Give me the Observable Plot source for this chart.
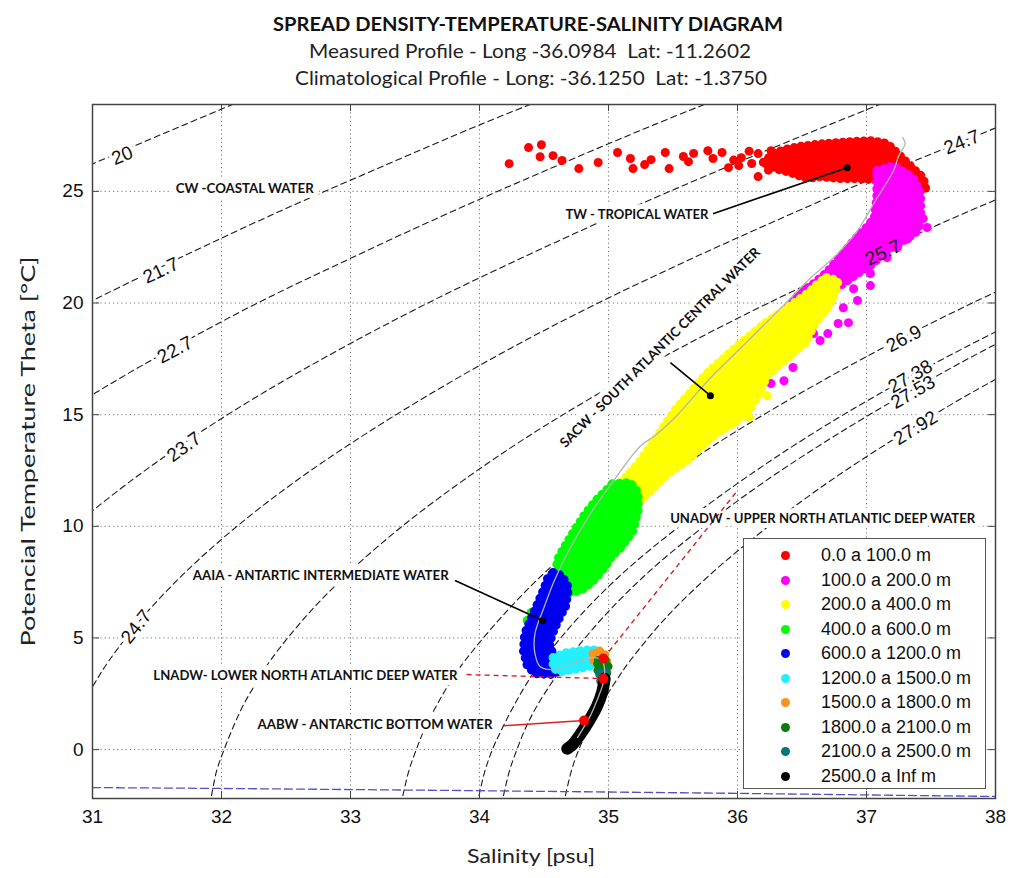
<!DOCTYPE html>
<html><head><meta charset="utf-8">
<script src="https://cdn.jsdelivr.net/npm/d3@7"></script>
<script src="https://cdn.jsdelivr.net/npm/@observablehq/plot@0.6"></script>
<style>
body{margin:0;background:#fff;}
#wrap{position:relative;width:1023px;height:878px;overflow:hidden;background:#fff;}
#legend{position:absolute;left:743px;top:538px;width:243px;height:251px;box-sizing:border-box;border:1.5px solid #555;background:#fff;font-family:"Liberation Sans",Arial,sans-serif;font-size:18px;color:#111;}
.item{position:absolute;left:0;height:20px;line-height:20px;width:100%;}
.sw{position:absolute;left:37px;top:6px;width:9px;height:9px;border-radius:50%;}
.lb{position:absolute;left:77px;top:0;white-space:nowrap;}
</style></head><body><div id="wrap"></div>
<script>
// ---------- data ----------
const xTicks = [31, 32, 33, 34, 35, 36, 37, 38];
const yTicks = [0, 5, 10, 15, 20, 25];

const titleText = "SPREAD DENSITY-TEMPERATURE-SALINITY DIAGRAM";
const subText1 = "Measured Profile - Long -36.0984\u00a0 Lat: -11.2602";
const subText2 = "Climatological Profile - Long: -36.1250\u00a0 Lat: -1.3750";
const xLabel = "Salinity [psu]";
const yLabel = "Potencial Temperature Theta [°C]";

const depthLabels = ["0.0 a 100.0 m","100.0 a 200.0 m","200.0 a 400.0 m","400.0 a 600.0 m","600.0 a 1200.0 m",
  "1200.0 a 1500.0 m","1500.0 a 1800.0 m","1800.0 a 2100.0 m","2100.0 a 2500.0 m","2500.0 a Inf m"];
const depthColors = ["#ff0000","#ff00ff","#ffff00","#00ff00","#0000f0","#22f0ff","#f7941d","#0a7a0a","#007878","#000000"];

// isopycnals (salinity, temperature) pairs
const isoLevels = ["20","21.7","22.7","23.7","24.7","25.7","26.9","27.38","27.53","27.92"];
const iso20   = [[30.91,26.0],[31.31,27.0],[31.72,28.0],[32.13,29.0]];
const iso217  = [[30.96,20.0],[31.67,22.0],[32.41,24.0],[33.20,26.0],[34.01,28.0],[34.44,29.0]];
const iso227  = [[30.49,14.0],[31.03,16.0],[31.63,18.0],[32.28,20.0],[33.00,22.0],[33.75,24.0],[34.54,26.0],[35.36,28.0],[35.79,29.0]];
const iso237  = [[30.85,10.0],[31.29,12.0],[31.78,14.0],[32.33,16.0],[32.94,18.0],[33.60,20.0],[34.32,22.0],[35.08,24.0],[35.88,26.0],[36.72,28.0],[37.15,29.0]];
const iso247  = [[30.78,0.0],[30.92,2.0],[31.02,3.0],[31.13,4.0],[31.40,6.0],[31.73,8.0],[32.12,10.0],[32.57,12.0],[33.08,14.0],[33.64,16.0],[34.25,18.0],[34.92,20.0],[35.65,22.0],[36.42,24.0],[37.22,26.0],[38.07,28.0]];
const iso257  = [[31.91,-2.5],[31.96,-1.0],[32.02,0.0],[32.09,1.0],[32.17,2.0],[32.27,3.0],[32.38,4.0],[32.66,6.0],[33.00,8.0],[33.40,10.0],[33.86,12.0],[34.37,14.0],[34.94,16.0],[35.56,18.0],[36.24,20.0],[36.98,22.0],[37.75,24.0],[38.57,26.0]];
const iso269  = [[33.39,-2.5],[33.45,-1.0],[33.51,0.0],[33.58,1.0],[33.67,2.0],[33.77,3.0],[33.89,4.0],[34.18,6.0],[34.52,8.0],[34.93,10.0],[35.40,12.0],[35.92,14.0],[36.50,16.0],[37.13,18.0],[37.82,20.0],[38.57,22.0]];
const iso2738 = [[33.98,-2.5],[34.04,-1.0],[34.10,0.0],[34.18,1.0],[34.27,2.0],[34.37,3.0],[34.49,4.0],[34.78,6.0],[35.13,8.0],[35.55,10.0],[36.02,12.0],[36.54,14.0],[37.12,16.0],[37.76,18.0],[38.45,20.0]];
const iso2753 = [[34.17,-2.5],[34.23,-1.0],[34.29,0.0],[34.36,1.0],[34.45,2.0],[34.56,3.0],[34.68,4.0],[34.97,6.0],[35.32,8.0],[35.74,10.0],[36.21,12.0],[36.74,14.0],[37.32,16.0],[37.95,18.0],[38.65,20.0]];
const iso2792 = [[34.65,-2.5],[34.71,-1.0],[34.77,0.0],[34.85,1.0],[34.94,2.0],[35.05,3.0],[35.17,4.0],[35.46,6.0],[35.82,8.0],[36.24,10.0],[36.71,12.0],[37.24,14.0],[37.82,16.0],[38.46,18.0]];

// isopycnal labels
const isoLabelText  = ["20","21.7","22.7","23.7","24.7","24.7","25.7","26.9","27.38","27.53","27.92"];
const isoLabelS     = [31.23,31.53,31.64,31.71,31.34,37.74,37.13,37.29,37.34,37.36,37.38];
const isoLabelT     = [26.6,21.45,17.9,13.55,5.5,27.2,22.25,18.4,16.7,16.0,14.4];
const isoLabelAngle = [-22,-25,-28,-36,-52,-22,-25,-28,-30,-30,-32];

// freezing-point line (blue dashed)
const freezeS = [31, 32, 33, 34, 35, 36, 37, 38];
const freezeT = [-1.70, -1.74, -1.79, -1.84, -1.90, -1.96, -2.03, -2.10];

// cloud outlines per depth class
const redCloud = [[36.20,26.30],[36.28,26.70],[36.37,26.88],[36.49,27.02],[36.67,27.14],[36.88,27.23],[37.05,27.27],[37.16,27.14],[37.26,26.60],[37.36,26.02],[37.44,25.62],[37.46,25.12],[37.38,24.90],[37.26,25.39],[37.11,25.48],[36.95,25.57],[36.80,25.57],[36.64,25.66],[36.54,25.57],[36.41,25.84],[36.29,26.02]];
const redDots = [[34.23,26.24],[34.38,26.96],[34.48,27.09],[34.47,26.55],[34.57,26.60],[34.64,26.38],[34.77,26.02],[34.92,26.29],[35.07,26.74],[35.17,26.47],[35.19,26.02],[35.28,26.20],[35.33,26.42],[35.44,26.74],[35.47,26.02],[35.58,26.56],[35.62,26.33],[35.66,26.70],[35.77,26.82],[35.81,26.47],[35.88,26.74],[35.93,26.06],[35.97,26.40],[36.01,26.15],[36.03,26.51],[36.09,26.80],[36.11,26.25],[36.16,26.69],[36.16,25.66],[36.22,26.29],[36.26,26.82],[36.24,25.95]];
const magentaCloud = [[37.08,25.93],[37.21,26.15],[37.36,25.62],[37.42,24.90],[37.42,23.82],[37.40,23.24],[37.29,22.79],[37.16,22.35],[37.05,21.76],[36.93,21.32],[36.82,20.87],[36.72,20.42],[36.62,19.79],[36.49,19.21],[36.36,18.90],[36.22,18.45],[36.12,18.41],[36.23,18.99],[36.33,19.35],[36.48,20.42],[36.59,20.87],[36.69,21.36],[36.79,22.03],[36.90,22.79],[37.00,23.38],[37.06,23.82],[37.08,24.72]];
const magentaDots = [[37.44,23.78],[37.47,23.38],[37.32,22.88],[37.24,22.48],[37.16,22.03],[37.03,21.32],[37.03,20.78],[36.90,20.64],[36.93,20.11],[36.82,19.79],[36.78,19.08],[36.86,19.12],[36.70,18.63],[36.59,18.63],[36.64,18.32],[36.49,18.45],[36.36,18.67],[36.43,17.11],[36.36,16.52],[36.26,16.39],[36.14,16.21]];
const yellowCloud = [[36.69,21.14],[36.78,21.00],[36.76,20.47],[36.70,19.79],[36.60,19.08],[36.53,18.23],[36.39,17.56],[36.23,16.75],[36.16,15.85],[36.08,15.18],[35.97,14.60],[35.87,14.29],[35.77,13.84],[35.61,12.94],[35.46,12.36],[35.35,11.73],[35.25,11.15],[35.19,10.84],[35.03,11.15],[35.02,11.73],[35.09,11.91],[35.23,12.81],[35.34,13.70],[35.51,15.18],[35.76,16.84],[36.02,18.18],[36.21,19.08],[36.41,19.88],[36.54,20.42],[36.63,20.91]];
const yellowDots = [[36.23,15.85],[36.10,15.32],[36.09,14.87]];
const greenCloud = [[35.03,11.91],[35.17,11.96],[35.23,11.51],[35.23,10.70],[35.19,9.81],[35.09,9.00],[35.03,8.69],[34.98,8.24],[34.90,7.66],[34.81,7.21],[34.71,6.99],[34.63,7.21],[34.60,7.79],[34.60,8.46],[34.65,9.00],[34.72,9.67],[34.81,10.48],[34.90,11.15],[34.98,11.60]];
const greenDots = [[34.40,6.14],[34.37,5.78]];
const blueCloud = [[34.57,7.93],[34.64,7.79],[34.69,7.25],[34.67,6.45],[34.61,5.78],[34.56,5.11],[34.54,4.57],[34.59,4.21],[34.64,3.99],[34.63,3.54],[34.55,3.36],[34.43,3.40],[34.37,3.76],[34.34,4.43],[34.35,5.19],[34.40,5.87],[34.46,6.67],[34.50,7.21],[34.53,7.70]];
const cyanCloud = [[34.57,4.12],[34.67,4.34],[34.78,4.43],[34.88,4.48],[34.94,4.34],[34.94,3.99],[34.88,3.76],[34.77,3.63],[34.64,3.49],[34.57,3.63]];
const orangeCloud = [[34.88,4.30],[34.94,4.43],[34.98,4.21],[34.99,3.81],[34.94,3.67],[34.89,3.90]];
const darkGreenCloud = [[34.92,3.99],[34.98,3.99],[35.00,3.67],[34.98,3.31],[34.94,3.31],[34.91,3.63]];
const tealCloud = [[34.93,3.45],[34.98,3.49],[34.98,3.09],[34.94,3.05]];
const blackCore = [[34.97,3.18],[34.95,2.55],[34.91,1.93],[34.85,1.30],[34.78,0.67],[34.72,0.22],[34.68,0.04]];

// climatological profile (thin gray line)
const climProfile = [[37.28,27.41],[37.30,27.14],[37.25,26.60],[37.21,25.93],[37.07,24.59],[36.93,23.24],[36.76,22.12],[36.57,21.14],[36.37,19.97],[36.16,18.76],[35.95,17.56],[35.77,16.52],[35.53,14.96],[35.36,14.06],[35.25,13.61],[35.04,12.05],[34.86,10.57],[34.68,8.78],[34.57,7.43],[34.50,6.36],[34.43,5.19],[34.43,4.30],[34.47,3.72],[34.57,3.58],[34.74,3.90],[34.88,4.12],[34.95,3.99],[34.97,3.54],[34.96,3.00],[34.91,2.19],[34.86,1.52],[34.76,0.54]];

// water mass annotations
const massNames = ["CW -COASTAL WATER","TW - TROPICAL WATER","SACW - SOUTH ATLANTIC CENTRAL WATER","UNADW - UPPER NORTH ATLANTIC DEEP WATER","AAIA - ANTARTIC INTERMEDIATE WATER","LNADW- LOWER NORTH ATLANTIC DEEP WATER","AABW - ANTARCTIC BOTTOM WATER"];
const massS = [32.18, 35.22, 35.40, 36.66, 32.77, 32.65, 33.19];
const massT = [25.12, 23.96, 18.00, 10.34, 7.79, 3.31, 1.12];
const massAngle = [0, 0, -45, 0, 0, 0, 0];
const massWidth = [138, 143, 276, 305, 256, 304, 235];

// pointer lines: from label end to marker
const blackPointerFrom = [[35.81,24.00],[35.48,17.33],[33.81,7.57]];
const blackPointerTo   = [[36.85,26.06],[35.79,15.85],[34.49,5.78]];
const redDashFrom = [[33.90,3.36],[34.96,4.08]];
const redDashTo   = [[34.96,3.18],[36.00,11.60]];
const redSolidFrom = [[34.19,1.07]];
const redSolidTo   = [[34.81,1.30]];
const redMarkers = [[34.96,4.08],[34.96,3.18],[34.81,1.30]];

// ---------- build ----------
const isoSets = [iso20, iso217, iso227, iso237, iso247, iso257, iso269, iso2738, iso2753, iso2792];
const isoRows = isoSets.flatMap((pts, i) => pts.map(([s, t]) => ({level: isoLevels[i], s, t})));
const isoLabels = isoLabelText.map((t, i) => ({text: t, s: isoLabelS[i], t: isoLabelT[i], a: isoLabelAngle[i]}));
const freeze = freezeS.map((s, i) => ({s, t: freezeT[i]}));
const masses = massNames.map((n, i) => ({n, s: massS[i], t: massT[i], a: massAngle[i]}));
const links = (from, to) => from.map((f, i) => ({x1: f[0], y1: f[1], x2: to[i][0], y2: to[i][1]}));

const S = d => d[0], T = d => d[1];
// a filled outline, plus a beaded edge so the cloud looks made of dots
const cloud = (pts, c) => [
  Plot.line(pts, {x: S, y: T, curve: "linear-closed", fill: c, stroke: c, strokeWidth: 4, strokeLinejoin: "round"}),
  Plot.line(pts, {x: S, y: T, curve: "linear-closed", stroke: c, strokeWidth: 9, strokeDasharray: "0,7", strokeLinecap: "round"})
];
const dots = (pts, c) => Plot.dot(pts, {x: S, y: T, r: 4.5, fill: c});

const labelFont = "Lato, 'Open Sans', sans-serif";
const W = 1023, H = 878, mL = 92, mR = 28, mT = 104, mB = 80;
const frameW = W - mL - mR, frameH = H - mT - mB, tickLen = 7;

const svg = Plot.plot({
  width: W, height: H,
  marginLeft: mL, marginRight: mR, marginTop: mT, marginBottom: mB,
  x: {domain: [31, 38]},
  y: {domain: [-2.19, 28.89]},
  style: {fontFamily: "'Liberation Sans', Arial, sans-serif", fontSize: "19px", background: "white", color: "#111"},
  marks: [
    Plot.gridX(xTicks, {stroke: "#777", strokeOpacity: 1, strokeWidth: 1, strokeDasharray: "1.2,3"}),
    Plot.gridY(yTicks, {stroke: "#777", strokeOpacity: 1, strokeWidth: 1, strokeDasharray: "1.2,3"}),
    Plot.line(isoRows, {x: "s", y: "t", z: "level", stroke: "#1a1a1a", strokeWidth: 1.1, strokeDasharray: "6,4", curve: "catmull-rom", clip: true}),
    Plot.line(freeze, {x: "s", y: "t", stroke: "#5050c8", strokeWidth: 1.3, strokeDasharray: "8,4", clip: true}),
    // gaps in isopycnals under labels
    Plot.text(isoLabels, {x: "s", y: "t", text: "text", rotate: "a", fontSize: 19, fill: "white", stroke: "white", strokeWidth: 7, paintOrder: "stroke"}),
    Plot.text(masses, {x: "s", y: "t", text: "n", rotate: "a", fontSize: 13.5, fontWeight: "bold", fontFamily: labelFont, fill: "white", stroke: "white", strokeWidth: 10, paintOrder: "stroke"}),
    // data clouds by depth class
    cloud(redCloud, depthColors[0]), dots(redDots, depthColors[0]),
    cloud(magentaCloud, depthColors[1]), dots(magentaDots, depthColors[1]),
    cloud(yellowCloud, depthColors[2]), dots(yellowDots, depthColors[2]),
    cloud(greenCloud, depthColors[3]), dots(greenDots, depthColors[3]),
    cloud(blueCloud, depthColors[4]),
    cloud(cyanCloud, depthColors[5]),
    cloud(orangeCloud, depthColors[6]),
    cloud(darkGreenCloud, depthColors[7]),
    cloud(tealCloud, depthColors[8]),
    Plot.line(blackCore, {x: S, y: T, stroke: "#000", strokeWidth: 12, strokeLinecap: "round", strokeLinejoin: "round", curve: "catmull-rom"}),
    Plot.line(climProfile, {x: S, y: T, stroke: "#b4b4b4", strokeWidth: 1.3, curve: "catmull-rom"}),
    // pointers
    Plot.link(links(blackPointerFrom, blackPointerTo), {x1: "x1", y1: "y1", x2: "x2", y2: "y2", stroke: "#000", strokeWidth: 1.6}),
    Plot.dot(blackPointerTo, {x: S, y: T, r: 3.5, fill: "#000"}),
    Plot.link(links(redDashFrom, redDashTo), {x1: "x1", y1: "y1", x2: "x2", y2: "y2", stroke: "#d42020", strokeWidth: 1.4, strokeDasharray: "5,4"}),
    Plot.link(links(redSolidFrom, redSolidTo), {x1: "x1", y1: "y1", x2: "x2", y2: "y2", stroke: "#e02020", strokeWidth: 1.6}),
    Plot.dot(redMarkers, {x: S, y: T, r: 5, fill: "#ff0000"}),
    // labels
    Plot.text(isoLabels, {x: "s", y: "t", text: "text", rotate: "a", fontSize: 19, fill: "#111"}),
    Plot.text(masses, {x: "s", y: "t", text: "n", rotate: "a", fontSize: 13.5, fontWeight: "bold", fontFamily: labelFont, fill: "#111"}),
    Plot.frame({stroke: "#444", strokeWidth: 1.5}),
    // inward ticks on all four sides
    Plot.tickX(xTicks, {x: d => d, insetTop: frameH - tickLen, stroke: "#444"}),
    Plot.tickX(xTicks, {x: d => d, insetBottom: frameH - tickLen, stroke: "#444"}),
    Plot.tickY(yTicks, {y: d => d, insetRight: frameW - tickLen, stroke: "#444"}),
    Plot.tickY(yTicks, {y: d => d, insetLeft: frameW - tickLen, stroke: "#444"}),
    // tick labels
    Plot.axisX(xTicks, {anchor: "bottom", tickSize: 0, tickPadding: 11, fontSize: 19, tickFormat: d3.format("d"), label: null}),
    Plot.axisY(yTicks, {anchor: "left", tickSize: 0, tickPadding: 9, fontSize: 19, tickFormat: d3.format("d"), label: null}),
    // titles and axis labels
    Plot.text([titleText], {text: d => d, frameAnchor: "top", dx: -16, dy: -87, fontSize: 19, fontWeight: "bold", fontFamily: labelFont, fill: "#111"}),
    Plot.text([subText1], {text: d => d, frameAnchor: "top", dx: -14, dy: -60, fontSize: 19, fontFamily: labelFont, fill: "#222"}),
    Plot.text([subText2], {text: d => d, frameAnchor: "top", dx: -13, dy: -33, fontSize: 19, fontFamily: labelFont, fill: "#222"}),
    Plot.text([xLabel], {text: d => d, frameAnchor: "bottom", dx: -13, dy: 64, fontSize: 19, fontFamily: labelFont, fill: "#222"}),
    Plot.text([yLabel], {text: d => d, frameAnchor: "left", textAnchor: "middle", dx: -64, rotate: -90, fontSize: 19, fontFamily: labelFont, fill: "#222"})
  ]
});

// fit text widths to the reference
const fit = {};
fit[titleText] = 510; fit[subText1] = 442; fit[subText2] = 472; fit[xLabel] = 128; fit[yLabel] = 390;
massNames.forEach((n, i) => fit[n] = massWidth[i]);
d3.select(svg).selectAll("text").each(function () {
  const w = fit[this.textContent];
  if (w) { this.setAttribute("textLength", w); this.setAttribute("lengthAdjust", "spacingAndGlyphs"); }
});

const wrap = document.getElementById("wrap");
wrap.appendChild(svg);

// legend
const legend = document.createElement("div");
legend.id = "legend";
depthLabels.forEach((lab, i) => {
  const it = document.createElement("div");
  it.className = "item";
  it.style.top = (6 + i * 24.5) + "px";
  const sw = document.createElement("span");
  sw.className = "sw"; sw.style.background = depthColors[i];
  const tx = document.createElement("span");
  tx.className = "lb"; tx.textContent = lab;
  it.appendChild(sw); it.appendChild(tx);
  legend.appendChild(it);
});
wrap.appendChild(legend);
</script></body></html>
